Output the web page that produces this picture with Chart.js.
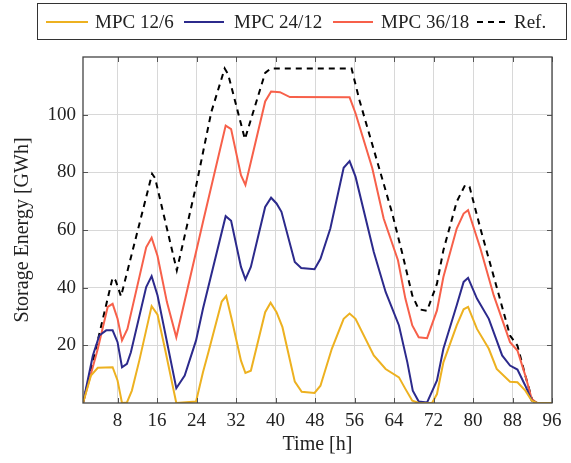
<!DOCTYPE html>
<html>
<head>
<meta charset="utf-8">
<script src="https://cdn.jsdelivr.net/npm/chart.js@4.4.1/dist/chart.umd.min.js"></script>
<style>
  body { margin: 0; background: #fff; }
  #wrap { position: relative; width: 571px; height: 463px; }
  #legend { position: absolute; left: 37px; top: 3px; width: 530px; height: 37px;
    border: 1px solid #333; box-sizing: border-box; font-family: "Liberation Serif", serif;
    font-size: 19px; color: #222; }
  #legend .sw { position: absolute; top: 18px; height: 0; }
  #legend .tx { position: absolute; top: 6px; line-height: 24px; white-space: nowrap; }
</style>
</head>
<body>
<div id="wrap">
  <canvas id="c" width="571" height="463"></canvas>
  <div id="legend"></div>
</div>
<script>
var refHours = [1, 7, 7.6, 8.7, 15, 15.6, 20, 24, 27, 29.7, 30.4, 33.8, 37.9, 39, 55.4, 57, 63.6, 65.6, 67.7, 69, 70.7, 72.7, 74, 76.7, 78.4, 79.3, 81.5, 84.5, 87.5, 89, 90.6, 92, 93, 96];
var refEnergy = [0, 43.5, 42.5, 37, 79.5, 78, 46, 76, 101, 116, 114, 91.5, 114.5, 116, 116, 105, 66, 52.4, 37.3, 32.5, 32, 41.4, 53, 69.8, 75.6, 75, 60.5, 42, 23.4, 19.9, 9.5, 1, 0, 0];

var mpc36Hours = [1, 4, 6, 7, 8, 8.9, 10, 13.8, 14.9, 16.1, 18, 19.9, 25.3, 29.9, 31, 33, 33.9, 37.9, 39.1, 40.9, 42.9, 55, 56.2, 59.6, 61.9, 64.8, 66.3, 67.7, 69, 70.7, 72.7, 74, 76.7, 78.1, 79, 81.5, 84.2, 87.5, 89, 90.6, 91.9, 93, 96];
var mpc36Energy = [0, 18.8, 33.3, 34.4, 29.2, 21.7, 25.7, 54, 57.3, 51, 35, 22.8, 62.8, 96.2, 95, 79, 75.6, 104.6, 108, 107.8, 106.1, 106, 100.5, 81.4, 64, 49.5, 36.2, 26.9, 22.8, 22.5, 32.1, 43.7, 60.5, 65.7, 66.9, 53.6, 37.3, 21.1, 18.2, 9.5, 1.4, 0, 0];

var mpc24Hours = [1, 3, 4.3, 5.7, 7, 8, 8.9, 9.9, 10.7, 13.8, 14.9, 16.1, 17.6, 19.9, 21.6, 23.9, 25.3, 29.9, 31, 33, 33.9, 35, 37.9, 39.1, 40.2, 41.2, 43.9, 45.2, 47.9, 49.1, 51.1, 53.8, 55, 56.2, 59.9, 62.3, 65, 66.7, 67.8, 69, 70.7, 72.7, 74, 76.7, 78.1, 79, 80.8, 83.2, 85.9, 87.5, 89, 90.6, 91.9, 93, 96];
var mpc24Energy = [0, 16.5, 23.4, 25.2, 25.2, 21.1, 12.4, 13.6, 17.6, 40.2, 44, 37.3, 24.6, 5.1, 9.5, 21.7, 32.7, 64.8, 63.2, 47.2, 42.9, 47.2, 68, 71.2, 69.2, 66.3, 48.9, 46.8, 46.4, 50, 60.5, 81.6, 83.9, 78.5, 52.4, 38.5, 26.9, 14.1, 4.3, 0.5, 0.2, 7.8, 18.8, 33.9, 42, 43.4, 36.2, 29.2, 16.5, 13, 11.6, 6, 0.8, 0, 0];

var mpc12Hours = [1, 2.6, 4, 7, 8, 8.9, 9.9, 10.9, 12.4, 14.9, 16.1, 17.6, 19.9, 23.9, 25.3, 26.4, 29.1, 30, 31.1, 33, 33.9, 35, 37.9, 39, 40.2, 41.4, 43.9, 45.3, 47.9, 49.1, 51.4, 53.8, 55, 56.2, 59.9, 62.3, 65, 66.3, 67.7, 69, 71.7, 72.7, 74, 76.7, 78.1, 79, 80.8, 83.2, 84.8, 87.5, 89, 90.6, 91.9, 93, 96];
var mpc12Energy = [0, 9.5, 12.2, 12.4, 7.8, 0, 0.2, 4.3, 14.7, 33.6, 30.6, 18.8, 0, 0.5, 10.7, 17.6, 35.2, 37.1, 29.2, 14.7, 10.4, 11.2, 31.5, 34.8, 31.5, 26.3, 7.4, 3.9, 3.5, 6, 18.8, 29.2, 31, 29.2, 16.5, 11.8, 8.9, 4.9, 0.8, 0, 0, 3.1, 14.1, 26.9, 32.5, 33.3, 25.7, 18.8, 11.8, 7.4, 7.2, 4.3, 0.8, 0, 0];

var xTicks = [8, 16, 24, 32, 40, 48, 56, 64, 72, 80, 88, 96];
var yTicks = [20, 40, 60, 80, 100];

var seriesNames = ["MPC 12/6", "MPC 24/12", "MPC 36/18", "Ref."];
var seriesColors = ["#EDB120", "#2C2A8C", "#F7604A", "#000000"];

function pts(xs, ys) {
  var o = [];
  for (var i = 0; i < xs.length; i++) o.push({x: xs[i], y: ys[i]});
  return o;
}

var FONT = "'Liberation Serif', 'Times New Roman', serif";

// box round the plot and little inward ticks on all four sides, pgfplots style
var frame = {
  id: 'frame',
  afterDraw: function(chart) {
    var ctx = chart.ctx, a = chart.chartArea;
    var xs = chart.scales.x, ys = chart.scales.y;
    ctx.save();
    ctx.strokeStyle = '#555';
    ctx.lineWidth = 1;
    ctx.beginPath();
    xTicks.forEach(function(t) {
      var px = Math.round(xs.getPixelForValue(t)) + 0.5;
      ctx.moveTo(px, a.bottom); ctx.lineTo(px, a.bottom - 5);
      ctx.moveTo(px, a.top); ctx.lineTo(px, a.top + 5);
    });
    yTicks.forEach(function(t) {
      var py = Math.round(ys.getPixelForValue(t)) + 0.5;
      ctx.moveTo(a.left, py); ctx.lineTo(a.left + 5, py);
      ctx.moveTo(a.right, py); ctx.lineTo(a.right - 5, py);
    });
    ctx.stroke();
    ctx.lineWidth = 1.3;
    ctx.strokeStyle = '#444';
    ctx.strokeRect(a.left, a.top, a.right - a.left, a.bottom - a.top);
    ctx.restore();
  }
};

var chart = new Chart(document.getElementById('c').getContext('2d'), {
  type: 'line',
  data: {
    datasets: [
      {label: seriesNames[0], data: pts(mpc12Hours, mpc12Energy), borderColor: seriesColors[0]},
      {label: seriesNames[1], data: pts(mpc24Hours, mpc24Energy), borderColor: seriesColors[1]},
      {label: seriesNames[2], data: pts(mpc36Hours, mpc36Energy), borderColor: seriesColors[2]},
      {label: seriesNames[3], data: pts(refHours, refEnergy), borderColor: seriesColors[3], borderDash: [6, 5]}
    ]
  },
  options: {
    responsive: false,
    animation: false,
    layout: {padding: {top: 57, right: 19, left: 0, bottom: 0}},
    elements: {
      line: {borderWidth: 2, tension: 0, fill: false},
      point: {radius: 0}
    },
    plugins: {legend: {display: false}, tooltip: {enabled: false}},
    scales: {
      x: {
        type: 'linear', min: 1, max: 96,
        afterBuildTicks: function(s) { s.ticks = xTicks.map(function(v) { return {value: v}; }); },
        afterFit: function(s) { s.height = 60; },
        grid: {color: '#d8d8d8', lineWidth: 1, drawTicks: false},
        border: {display: false},
        ticks: {padding: 7, color: '#222', font: {family: FONT, size: 19}, maxRotation: 0},
        title: {display: true, text: 'Time [h]', color: '#222', font: {family: FONT, size: 20}, padding: {top: 0, bottom: 6}}
      },
      y: {
        min: 0, max: 120,
        afterBuildTicks: function(s) { s.ticks = yTicks.map(function(v) { return {value: v}; }); },
        afterFit: function(s) { s.width = 83; },
        grid: {color: '#d8d8d8', lineWidth: 1, drawTicks: false},
        border: {display: false},
        ticks: {padding: 7, color: '#222', font: {family: FONT, size: 19}},
        title: {display: true, text: 'Storage Energy [GWh]', color: '#222', font: {family: FONT, size: 20}, padding: {top: 11, bottom: 0}}
      }
    }
  },
  plugins: [frame]
});

// legend box above the plot
var lg = document.getElementById('legend');
var swLeft = [8, 146, 295, 439];
var swWidth = [42, 40, 40, 28];
var txLeft = [57, 196, 343, 476];
seriesNames.forEach(function(n, i) {
  var sw = document.createElement('div');
  sw.className = 'sw';
  sw.style.left = swLeft[i] + 'px';
  sw.style.width = swWidth[i] + 'px';
  if (i === 3) {
    sw.style.height = '2px';
    sw.style.top = '17px';
    sw.style.background = 'repeating-linear-gradient(90deg, #000 0 6px, transparent 6px 11px)';
  } else {
    sw.style.borderTop = '2px solid ' + seriesColors[i];
    sw.style.top = '17px';
  }
  lg.appendChild(sw);
  var tx = document.createElement('div');
  tx.className = 'tx';
  tx.style.left = txLeft[i] + 'px';
  tx.textContent = n;
  lg.appendChild(tx);
});
</script>
</body>
</html>
